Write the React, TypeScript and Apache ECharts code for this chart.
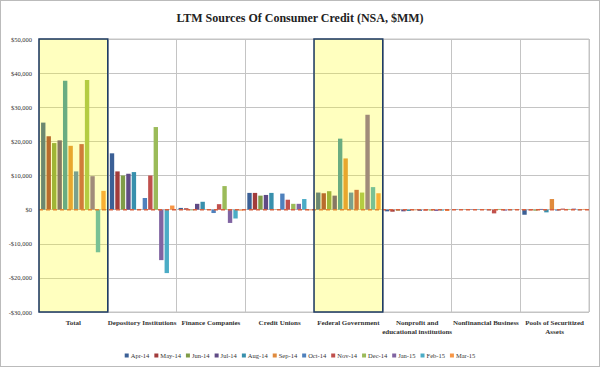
import React, { useEffect, useRef } from "react";
import * as echarts from "echarts";

const categories = [
  "Total",
  "Depository Institutions",
  "Finance Companies",
  "Credit Unions",
  "Federal Government",
  "Nonprofit and\neducational institutions",
  "Nonfinancial Business",
  "Pools of Securitized\nAssets",
];

const months = ["Apr-14", "May-14", "Jun-14", "Jul-14", "Aug-14", "Sep-14", "Oct-14", "Nov-14", "Dec-14", "Jan-15", "Feb-15", "Mar-15"];

const colors = ["#3b6096", "#a23b3b", "#7f9c48", "#5f4b85", "#3890ad", "#e08a3c", "#4f81bd", "#c0504d", "#9bbb59", "#8064a2", "#4bacc6", "#f79646"];

// values per month, across categories (in $MM)
const apr14 = [25500, 16500, 500, 4900, 5000, -500, -100, -1500];
const may14 = [21500, 11200, 400, 4900, 4800, -600, 100, -200];
const jun14 = [19500, 10000, -200, 4100, 5400, -300, -100, -300];
const jul14 = [20300, 10500, 1700, 4300, 4100, -500, 100, 200];
const aug14 = [37800, 11000, 2300, 4900, 20800, -400, -100, -800];
const sep14 = [18700, 200, 100, 100, 15000, -200, 100, 3100];
const oct14 = [11200, 3400, -1000, 4700, 5000, -400, -200, -300];
const nov14 = [19200, 10000, 1600, 2900, 5800, -300, -1100, 300];
const dec14 = [38000, 24200, 6900, 1700, 5000, -300, 200, 200];
const jan15 = [9800, -14800, -3900, 1700, 27800, -400, -300, 300];
const feb15 = [-12500, -18600, -2600, 3100, 6600, -300, -200, -200];
const mar15 = [5500, 1200, -300, -200, 4800, -400, 100, 200];

const seriesValues = [apr14, may14, jun14, jul14, aug14, sep14, oct14, nov14, dec14, jan15, feb15, mar15];

const yTicks = { min: -30000, max: 50000, interval: 10000 };
const highlighted = [0, 4]; // category indexes in boxes

const serif = "'Liberation Serif', 'DejaVu Serif', serif";

function fmt(v: number) {
  const s = Math.abs(v).toLocaleString("en-US");
  return (v < 0 ? "-$" : "$") + s;
}

export default function App() {
  const ref = useRef<HTMLDivElement>(null);
  useEffect(() => {
    if (!ref.current) return;
    const chart = echarts.init(ref.current, null, { renderer: "svg" });
    const barSeries = months.map((m, i) => ({
      name: m,
      type: "bar",
      data: seriesValues[i],
      itemStyle: { color: colors[i] },
      barGap: "25%",
      barCategoryGap: "6%",
      z: 2,
    }));
    chart.setOption({
      animation: false,
      title: {
        text: "LTM Sources Of Consumer Credit (NSA, $MM)",
        left: "center",
        top: 6,
        textStyle: { fontFamily: serif, fontSize: 12, fontWeight: "bold", color: "#222" },
      },
      grid: { left: 38, right: 10, top: 38, bottom: 54, show: true, borderColor: "#c4c4c4", borderWidth: 1 },
      legend: {
        data: months,
        top: 346,
        left: "center",
        icon: "rect",
        itemWidth: 4,
        itemHeight: 4,
        itemGap: 5,
        textStyle: { fontFamily: serif, fontSize: 6.5, color: "#333", padding: [0, 0, 0, -3] },
      },
      xAxis: [
        {
          type: "category",
          data: categories,
          axisLine: { show: false },
          axisTick: { show: false },
          splitLine: { show: true, lineStyle: { color: "#c4c4c4", width: 1 } },
          axisLabel: {
            interval: 0,
            margin: 6,
            fontFamily: serif,
            fontSize: 7,
            fontWeight: "bold",
            color: "#333",
            lineHeight: 9,
          },
        },
        { type: "value", min: 0, max: 8, show: false },
      ],
      yAxis: {
        type: "value",
        min: yTicks.min,
        max: yTicks.max,
        interval: yTicks.interval,
        axisLine: { show: false },
        axisTick: { show: false },
        splitLine: { lineStyle: { color: "#c4c4c4", width: 1 } },
        axisLabel: { formatter: fmt, fontFamily: serif, fontSize: 6.5, color: "#333", margin: 7 },
      },
      series: [
        ...barSeries,
        {
          name: "zero",
          type: "line",
          xAxisIndex: 1,
          data: [[0, 0], [8, 0]],
          symbol: "none",
          lineStyle: { color: "#d9603e", type: [4, 3], width: 1.5 },
          silent: true,
          z: 5,
        },
        {
          name: "highlight",
          type: "custom",
          xAxisIndex: 1,
          silent: true,
          z: 10,
          data: highlighted.map((c) => [c]),
          renderItem: (params: any, api: any) => {
            const c = api.value(0);
            const p0 = api.coord([c, yTicks.max]);
            const p1 = api.coord([c + 1, yTicks.min]);
            return {
              type: "rect",
              shape: { x: p0[0], y: p0[1], width: p1[0] - p0[0], height: p1[1] - p0[1] },
              style: { fill: "rgba(255,255,0,0.25)", stroke: "#1f3d66", lineWidth: 1.5 },
            };
          },
        },
      ],
    });
    return () => chart.dispose();
  }, []);
  return (
    <div
      ref={ref}
      style={{ width: 600, height: 367, border: "1px solid #bbb", boxSizing: "border-box", position: "absolute", left: 0, top: 0, background: "#fff" }}
    />
  );
}
